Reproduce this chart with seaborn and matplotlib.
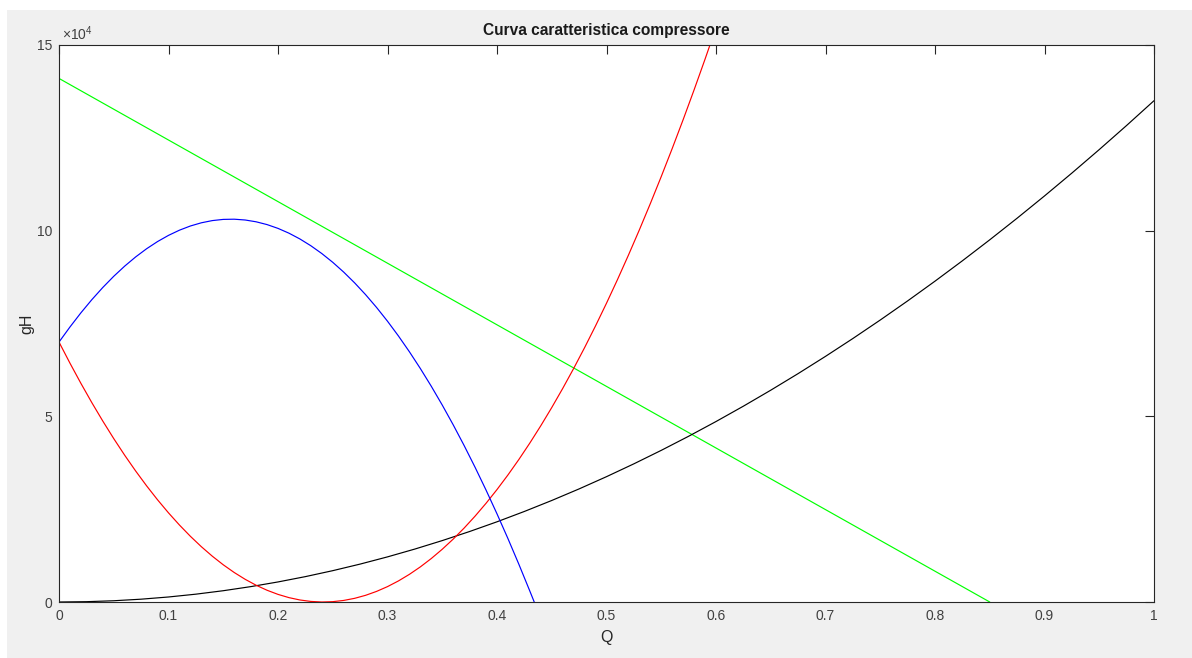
import matplotlib
matplotlib.use("Agg")
import matplotlib.pyplot as plt
import seaborn as sns
from matplotlib.patches import Rectangle
from matplotlib.ticker import FixedLocator

# ---- data ----
q_green = [0.0, 0.1, 0.2, 0.3, 0.4, 0.5, 0.6, 0.7, 0.8, 0.85]
gh_green = [141000, 124412, 107824, 91235, 74647, 58059, 41471, 24882, 8294, 0]

q_black = [0.0, 0.025, 0.05, 0.075, 0.1, 0.125, 0.15, 0.175, 0.2, 0.225, 0.25, 0.275,
           0.3, 0.325, 0.35, 0.375, 0.4, 0.425, 0.45, 0.475, 0.5, 0.525, 0.55, 0.575,
           0.6, 0.625, 0.65, 0.675, 0.7, 0.725, 0.75, 0.775, 0.8, 0.825, 0.85, 0.875,
           0.9, 0.925, 0.95, 0.975, 1.0]
gh_black = [0, 84, 338, 759, 1350, 2109, 3038, 4134, 5400, 6834, 8438, 10209,
            12150, 14259, 16538, 18984, 21600, 24384, 27338, 30459, 33750, 37209, 40838, 44634,
            48600, 52734, 57038, 61509, 66150, 70959, 75938, 81084, 86400, 91884, 97538, 103359,
            109350, 115509, 121838, 128334, 135000]

q_red = [0.00, 0.01, 0.02, 0.03, 0.04, 0.05, 0.06, 0.07, 0.08, 0.09,
         0.10, 0.11, 0.12, 0.13, 0.14, 0.15, 0.16, 0.17, 0.18, 0.19,
         0.20, 0.21, 0.22, 0.23, 0.24, 0.25, 0.26, 0.27, 0.28, 0.29,
         0.30, 0.31, 0.32, 0.33, 0.34, 0.35, 0.36, 0.37, 0.38, 0.39,
         0.40, 0.41, 0.42, 0.43, 0.44, 0.45, 0.46, 0.47, 0.48, 0.49,
         0.50, 0.51, 0.52, 0.53, 0.54, 0.55, 0.56, 0.57, 0.58, 0.59, 0.60]
gh_red = [70000, 64323, 58882, 53680, 48720, 44000, 39520, 35280, 31282, 27523,
          24005, 20728, 17690, 14894, 12338, 10022, 7947, 6112, 4518, 3164,
          2051, 1178, 545, 154, 2, 91, 420, 990, 1801, 2852,
          4143, 5675, 7447, 9459, 11713, 14206, 16940, 19915, 23130, 26585,
          30281, 34217, 38394, 42812, 47469, 52367, 57506, 62885, 68505, 74365,
          80465, 86806, 93388, 100210, 107272, 114574, 122118, 129901, 137925, 146190, 154695]

q_blue = [0.00, 0.01, 0.02, 0.03, 0.04, 0.05, 0.06, 0.07, 0.08, 0.09,
          0.10, 0.11, 0.12, 0.13, 0.14, 0.15, 0.16, 0.17, 0.18, 0.19,
          0.20, 0.21, 0.22, 0.23, 0.24, 0.25, 0.26, 0.27, 0.28, 0.29,
          0.30, 0.31, 0.32, 0.33, 0.34, 0.35, 0.36, 0.37, 0.38, 0.39,
          0.40, 0.41, 0.42, 0.43, 0.434]
gh_blue = [70000, 74057, 77874, 81423, 84702, 87713, 90454, 92927, 95131, 97067,
           98733, 100131, 101260, 102120, 102712, 103034, 103088, 102873, 102389, 101636,
           100615, 99325, 97766, 95938, 93841, 91476, 88841, 85938, 82767, 79326,
           75617, 71638, 67391, 62875, 58091, 53037, 47715, 42124, 36264, 30136,
           23738, 17072, 10137, 2933, 0]

x_ticks = [0, 0.1, 0.2, 0.3, 0.4, 0.5, 0.6, 0.7, 0.8, 0.9, 1]
x_labels = ["0", "0.1", "0.2", "0.3", "0.4", "0.5", "0.6", "0.7", "0.8", "0.9", "1"]
y_ticks = [0, 50000, 100000, 150000]
y_labels = ["0", "5", "10", "15"]

title = "Curva caratteristica compressore"
xlabel = "Q"
ylabel = "gH"

# ---- style ----
sns.set_style("white")
plt.rcParams['font.family'] = ['Liberation Sans', 'DejaVu Sans']
plt.rcParams['mathtext.fontset'] = 'custom'
plt.rcParams['mathtext.rm'] = 'Liberation Sans'
plt.rcParams['mathtext.it'] = 'Liberation Sans'

W, H = 1192, 658
fig = plt.figure(figsize=(W / 100, H / 100), dpi=100, facecolor="#f0f0f0")
# white strips at left and top of the screenshot
fig.patches.append(Rectangle((0, 0), 7 / W, 1, transform=fig.transFigure,
                             facecolor="white", edgecolor="none", zorder=-5))
fig.patches.append(Rectangle((0, 1 - 10 / H), 1, 10 / H, transform=fig.transFigure,
                             facecolor="white", edgecolor="none", zorder=-5))

left, right, top, bottom = 59, 1154, 45, 602
ax = fig.add_axes([left / W, 1 - bottom / H, (right - left) / W, (bottom - top) / H])
ax.set_facecolor("white")

lw = 0.85
sns.lineplot(x=q_green, y=gh_green, color="#00ff00", lw=lw, ax=ax, sort=False)
sns.lineplot(x=q_black, y=gh_black, color="black", lw=lw, ax=ax, sort=False)
sns.lineplot(x=q_red, y=gh_red, color="#ff0000", lw=lw, ax=ax, sort=False)
sns.lineplot(x=q_blue, y=gh_blue, color="#0000ff", lw=lw, ax=ax, sort=False)

ax.set_xlim(0, 1)
ax.set_ylim(0, 150000)
ax.xaxis.set_major_locator(FixedLocator(x_ticks))
ax.set_xticklabels(x_labels)
ax.yaxis.set_major_locator(FixedLocator(y_ticks))
ax.set_yticklabels(y_labels)

axc = "#262626"
for s in ax.spines.values():
    s.set_visible(True)
    s.set_color(axc)
    s.set_linewidth(0.8)
ax.tick_params(axis="both", direction="in", length=6.5, width=0.8, color=axc,
               labelcolor="#404040", labelsize=10, top=True, right=True, pad=5)

ax.set_xlabel(xlabel, fontsize=11.5, color="#262626", labelpad=5)
ax.set_ylabel(ylabel, fontsize=11.5, color="#262626", labelpad=2)
ax.set_title(title, fontsize=11.2, fontweight="bold", color="#1a1a1a", pad=7)

ax.text(0.003, 1.004, r"$\times 10^{4}$", transform=ax.transAxes, fontsize=10,
        color="#404040", ha="left", va="bottom")

fig.savefig("out.png", dpi=100, facecolor=fig.get_facecolor())
